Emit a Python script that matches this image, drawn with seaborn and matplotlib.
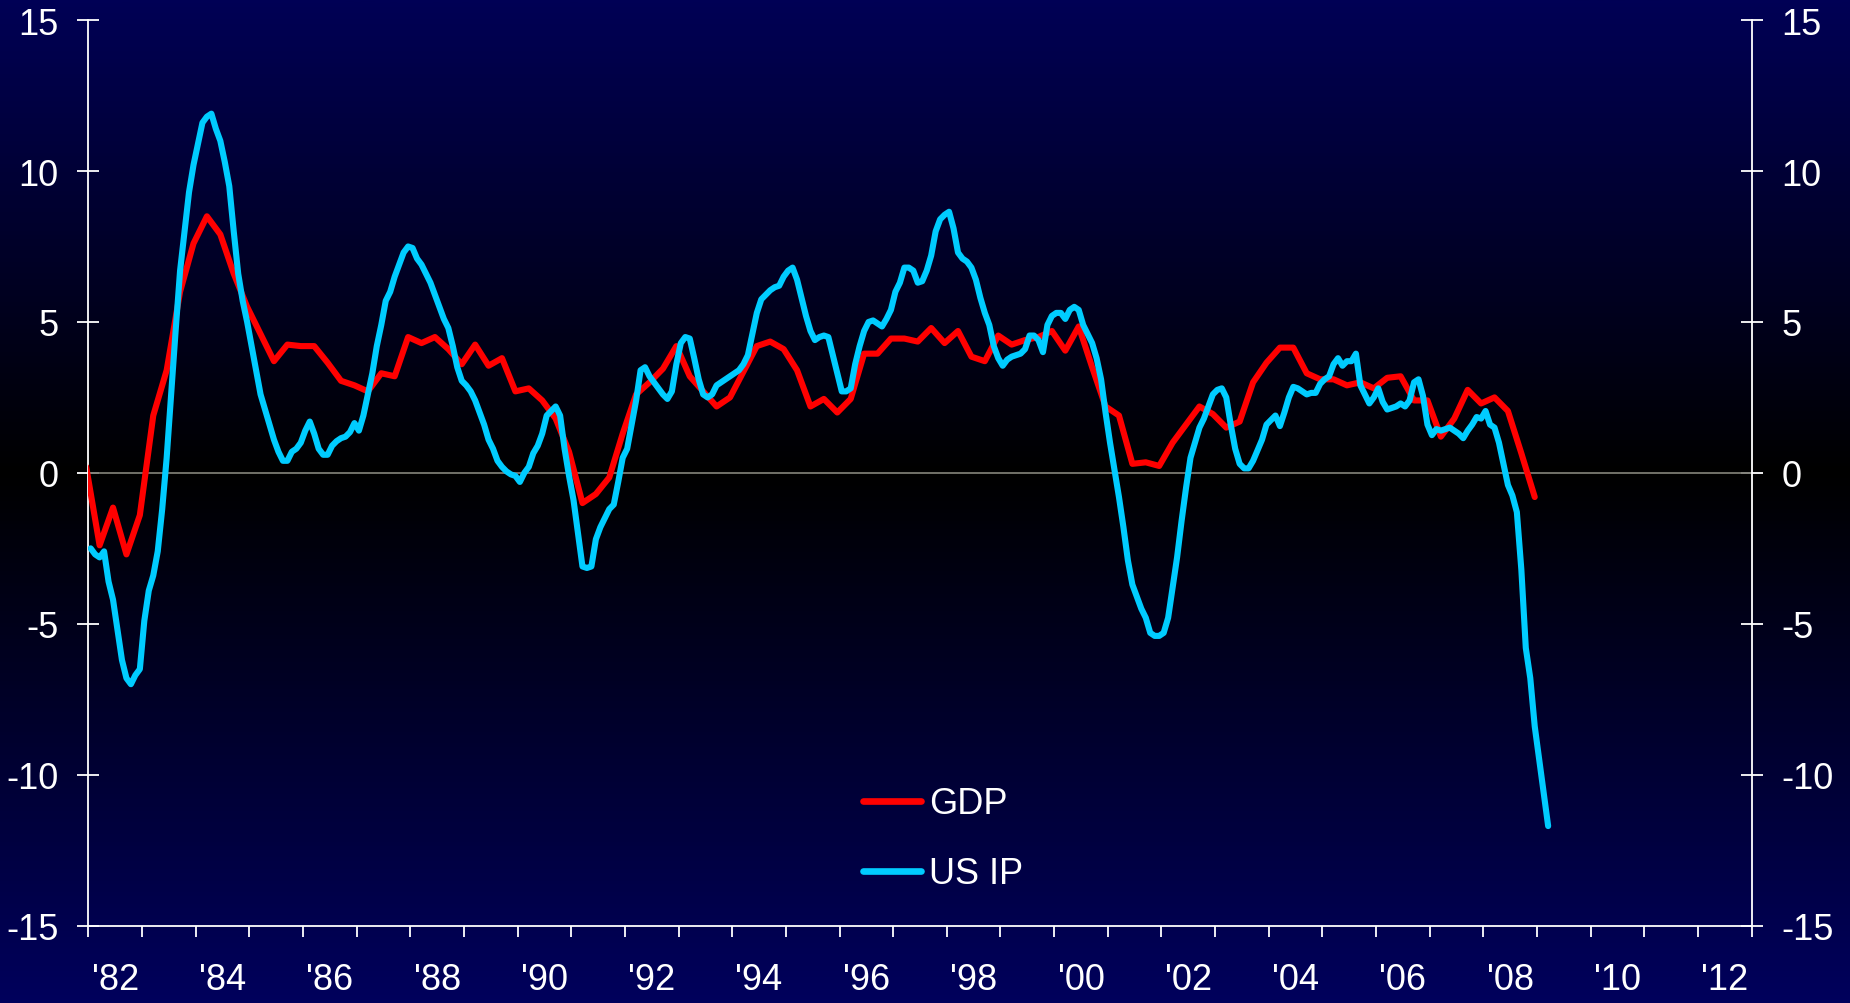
import numpy as np
import pandas as pd
import matplotlib
matplotlib.use("Agg")
import matplotlib.pyplot as plt
from matplotlib.colors import LinearSegmentedColormap
import seaborn as sns

# --- data (year-on-year %, 1982 - 2009) ---
gdp_quarters = pd.period_range("1981Q4", "2008Q4", freq="Q")
gdp_values = [
    0.2,
    -2.4, -1.15, -2.7, -1.4,    # 1982
    1.9, 3.4, 6.0, 7.6,         # 1983
    8.5, 7.9, 6.6, 5.5,         # 1984
    4.6, 3.7, 4.25, 4.2,        # 1985
    4.2, 3.65, 3.05, 2.9,       # 1986
    2.7, 3.3, 3.2, 4.5,         # 1987
    4.3, 4.5, 4.1, 3.6,         # 1988
    4.25, 3.55, 3.8, 2.7,       # 1989
    2.8, 2.4, 1.8, 0.7,         # 1990
    -1.0, -0.7, -0.15, 1.3,     # 1991
    2.6, 3.0, 3.45, 4.2,        # 1992
    3.2, 2.7, 2.2, 2.5,         # 1993
    3.35, 4.2, 4.35, 4.1,       # 1994
    3.4, 2.2, 2.45, 2.0,        # 1995
    2.45, 3.95, 3.95, 4.45,     # 1996
    4.45, 4.35, 4.8, 4.3,       # 1997
    4.7, 3.85, 3.7, 4.55,       # 1998
    4.25, 4.4, 4.5, 4.7,        # 1999
    4.05, 4.85, 3.5, 2.2,       # 2000
    1.9, 0.3, 0.35, 0.23,       # 2001
    1.0, 1.6, 2.2, 1.95,        # 2002
    1.5, 1.7, 3.0, 3.65,        # 2003
    4.15, 4.15, 3.3, 3.1,       # 2004
    3.1, 2.9, 3.0, 2.8,         # 2005
    3.15, 3.2, 2.4, 2.4,        # 2006
    1.2, 1.8, 2.75, 2.3,        # 2007
    2.5, 2.05, 0.65, -0.8,      # 2008
]

ip_months = pd.period_range("1982-01", "2009-03", freq="M")
ip_values = [
    -2.5, -2.7, -2.8, -2.6, -3.6, -4.2, -5.2, -6.2, -6.8, -7.0, -6.7, -6.5,      # 1982
    -4.9, -3.9, -3.4, -2.6, -1.2, 0.5, 2.6, 4.7, 6.7, 8.0, 9.3, 10.2,           # 1983
    10.9, 11.6, 11.8, 11.9, 11.4, 11.0, 10.3, 9.5, 8.0, 6.6, 5.7, 5.0,          # 1984
    4.2, 3.4, 2.6, 2.1, 1.6, 1.1, 0.7, 0.4, 0.4, 0.7, 0.8, 1.0,                 # 1985
    1.4, 1.7, 1.3, 0.8, 0.6, 0.6, 0.9, 1.05, 1.15, 1.2, 1.35, 1.65,             # 1986
    1.4, 1.9, 2.6, 3.3, 4.2, 4.9, 5.7, 6.0, 6.5, 6.9, 7.3, 7.5,                 # 1987
    7.45, 7.1, 6.9, 6.6, 6.3, 5.9, 5.5, 5.1, 4.8, 4.2, 3.5, 3.05,               # 1988
    2.9, 2.7, 2.4, 2.0, 1.6, 1.1, 0.8, 0.4, 0.2, 0.05, -0.05, -0.1,             # 1989
    -0.3, 0.0, 0.2, 0.65, 0.9, 1.3, 1.9, 2.05, 2.2, 1.9, 0.8, -0.1,             # 1990
    -0.9, -2.0, -3.1, -3.15, -3.1, -2.2, -1.8, -1.5, -1.2, -1.05, -0.3, 0.5,    # 1991
    0.8, 1.6, 2.4, 3.4, 3.5, 3.2, 3.0, 2.8, 2.6, 2.45, 2.7, 3.6,                # 1992
    4.3, 4.5, 4.45, 3.8, 3.1, 2.6, 2.5, 2.6, 2.9, 3.0, 3.1, 3.2,                # 1993
    3.3, 3.4, 3.6, 3.9, 4.6, 5.3, 5.75, 5.9, 6.05, 6.15, 6.2, 6.5,              # 1994
    6.7, 6.8, 6.4, 5.8, 5.2, 4.7, 4.4, 4.5, 4.55, 4.5, 3.9, 3.3,                # 1995
    2.7, 2.7, 2.8, 3.6, 4.2, 4.7, 5.0, 5.05, 4.95, 4.85, 5.1, 5.4,              # 1996
    6.0, 6.3, 6.8, 6.8, 6.7, 6.3, 6.35, 6.7, 7.2, 8.0, 8.4, 8.55,               # 1997
    8.65, 8.1, 7.3, 7.1, 7.0, 6.8, 6.4, 5.8, 5.3, 4.9, 4.2, 3.8,                # 1998
    3.55, 3.75, 3.85, 3.9, 3.95, 4.1, 4.55, 4.55, 4.4, 4.0, 4.9, 5.2,           # 1999
    5.3, 5.3, 5.1, 5.4, 5.5, 5.4, 4.9, 4.6, 4.3, 3.8, 3.1, 2.0,                 # 2000
    1.0, 0.1, -0.8, -1.8, -2.9, -3.7, -4.1, -4.5, -4.8, -5.3, -5.4, -5.4,       # 2001
    -5.3, -4.8, -3.8, -2.8, -1.6, -0.5, 0.5, 1.0, 1.5, 1.8, 2.2, 2.6,           # 2002
    2.75, 2.8, 2.5, 1.6, 0.8, 0.3, 0.15, 0.15, 0.4, 0.75, 1.1, 1.6,             # 2003
    1.75, 1.9, 1.55, 2.0, 2.5, 2.85, 2.8, 2.7, 2.6, 2.65, 2.65, 2.95,           # 2004
    3.1, 3.2, 3.6, 3.8, 3.55, 3.7, 3.7, 3.95, 2.9, 2.6, 2.3, 2.5,               # 2005
    2.8, 2.35, 2.1, 2.15, 2.2, 2.3, 2.2, 2.4, 3.0, 3.1, 2.55, 1.6,              # 2006
    1.25, 1.45, 1.4, 1.45, 1.5, 1.4, 1.3, 1.15, 1.4, 1.6, 1.85, 1.8,            # 2007
    2.05, 1.6, 1.5, 1.0, 0.3, -0.4, -0.75, -1.3, -3.2, -5.8, -6.8, -8.4,        # 2008
    -9.5, -10.6, -11.7,                                                          # 2009
]

year_ticks = list(range(1982, 2014))
year_labels = ["'82", "'84", "'86", "'88", "'90", "'92", "'94", "'96",
               "'98", "'00", "'02", "'04", "'06", "'08", "'10", "'12"]
label_years = list(range(1982, 2013, 2))
y_ticks = [-15, -10, -5, 0, 5, 10, 15]

RED = "#ff0000"
CYAN = "#00ccff"


def to_decimal_year(periods):
    # place each point at the middle of its (last) month
    ts = periods.asfreq("M", how="end")
    return ts.year + (ts.month - 0.5) / 12.0


gdp = pd.DataFrame({"year": to_decimal_year(gdp_quarters), "value": gdp_values})
ip = pd.DataFrame({"year": to_decimal_year(ip_months), "value": ip_values})

sns.set_theme(style="ticks")
plt.rcParams["font.family"] = ["Liberation Sans", "DejaVu Sans"]
plt.rcParams["axes.unicode_minus"] = False

fig = plt.figure(figsize=(18.5, 10.04), dpi=100)

# gradient background: navy at top and bottom, black around the zero line
bg = fig.add_axes([0, 0, 1, 1], zorder=-10)
cmap = LinearSegmentedColormap.from_list(
    "bg", [(0.0, "#00005c"), (0.528, "#000000"), (1.0, "#000055")])
bg.imshow(np.linspace(0, 1, 600).reshape(-1, 1), aspect="auto", cmap=cmap,
          origin="lower", extent=[0, 1, 0, 1])
bg.set_axis_off()

ax = fig.add_axes([0.0478, 0.077, 0.899, 0.902])
ax.patch.set_alpha(0)

ax.axhline(0, color="#7a7a72", lw=1.3, zorder=1)
sns.lineplot(data=gdp, x="year", y="value", ax=ax, color=RED, lw=4.4,
             label="GDP", zorder=3)
sns.lineplot(data=ip, x="year", y="value", ax=ax, color=CYAN, lw=4.4,
             label="US IP", zorder=4)

ax.set_xlim(1982, 2013)
ax.set_ylim(-15, 15)
ax.set_xlabel("")
ax.set_ylabel("")

for side in ("left", "right", "bottom"):
    ax.spines[side].set_color("white")
    ax.spines[side].set_linewidth(1.3)
ax.spines["top"].set_visible(False)

ax.set_yticks(y_ticks, labels=[str(v) for v in y_ticks])
ax.yaxis.set_ticks_position("both")
ax.tick_params(axis="y", which="major", direction="inout", length=15.8,
               width=1.3, colors="white", labelsize=26, pad=13.7,
               labelleft=True, labelright=True)

ax.set_xticks(year_ticks, labels=[])
ax.set_xticks([y + 0.5 for y in label_years], labels=year_labels, minor=True)
ax.tick_params(axis="x", which="major", direction="out", length=7.6,
               width=1.3, colors="white")
ax.tick_params(axis="x", which="minor", length=0, colors="white",
               labelsize=26, pad=26.5)

leg = ax.legend(loc="lower left", bbox_to_anchor=(0.466, 0.038), frameon=False,
                fontsize=26, handlelength=1.6, handletextpad=0.22,
                labelspacing=0.97, borderpad=0, borderaxespad=0)
for text in leg.get_texts():
    text.set_color("white")
for line in leg.get_lines():
    line.set_linewidth(4.8)

fig.savefig("out.png", dpi=100)
